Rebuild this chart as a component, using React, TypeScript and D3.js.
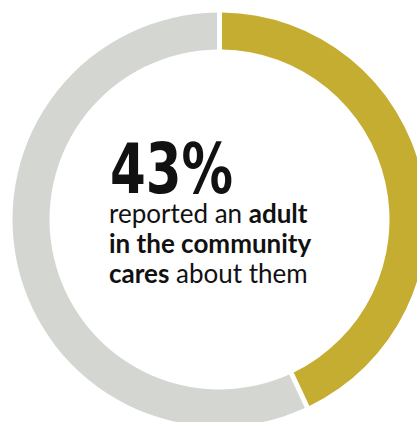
import React from "react";
import * as d3 from "d3";

const categories = ["Cares", "Other"];
const values = [43, 57];
const colors = ["#C5AD31", "#D4D6D1"];
const headline = "43%";
const lines: { text: string; bold: boolean }[][] = [
  [{ text: "reported an ", bold: false }, { text: "adult", bold: true }],
  [{ text: "in the community", bold: true }],
  [{ text: "cares", bold: true }, { text: " about them", bold: false }],
];

const W = 417;
const H = 422;

export default function App() {
  const cx = 219.5;
  const cy = 219.5;
  const outer = 207;
  const inner = 170;
  const pie = d3
    .pie<number>()
    .sort(null)
    .value((d) => d)
    .padAngle(5 / Math.sqrt(outer * outer + inner * inner));
  const arcs = pie(values);
  const arc = d3.arc<d3.PieArcDatum<number>>().innerRadius(inner).outerRadius(outer);
  return (
    <svg
      width={W}
      height={H}
      style={{ position: "absolute", left: 0, top: 0, background: "#fff" }}
    >
      <g transform={`translate(${cx},${cy})`}>
        {arcs.map((a, i) => (
          <path key={categories[i]} d={arc(a) || ""} fill={colors[i]} />
        ))}
      </g>
      <text
        x={110}
        y={193}
        fontFamily="'DejaVu Sans Condensed', 'DejaVu Sans', sans-serif"
        fontWeight="bold"
        fontSize={70}
        fill="#111"
        textLength={123}
        lengthAdjust="spacingAndGlyphs"
      >
        {headline}
      </text>
      {lines.map((ln, i) => (
        <text
          key={i}
          x={109}
          y={223 + i * 30}
          fontFamily="Lato, sans-serif"
          fontSize={26}
          fill="#111"
        >
          {ln.map((s, j) => (
            <tspan key={j} fontWeight={s.bold ? "bold" : "normal"}>
              {s.text}
            </tspan>
          ))}
        </text>
      ))}
    </svg>
  );
}
